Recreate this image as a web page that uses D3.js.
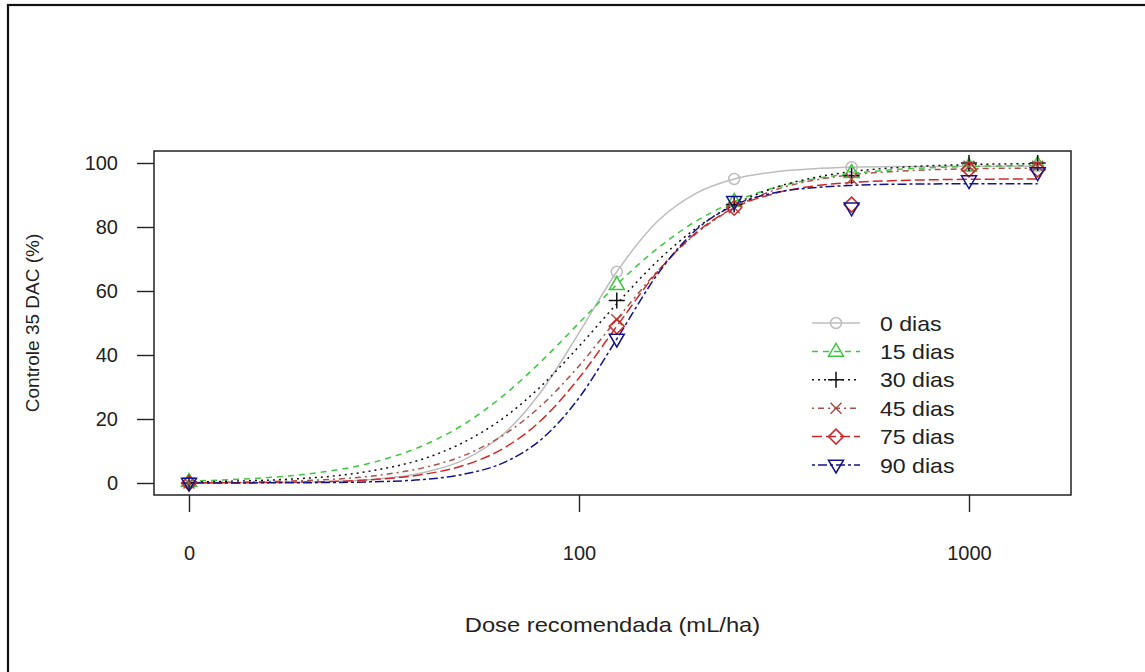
<!DOCTYPE html>
<html>
<head>
<meta charset="utf-8">
<script src="https://cdn.jsdelivr.net/npm/d3@7"></script>
<style>
  body { margin: 0; background: #fff; }
  text { font-family: "Liberation Sans", Arial, sans-serif; fill: #222; }
</style>
</head>
<body>
<svg id="chart" width="1145" height="672"></svg>
<script>
// observed doses (0 is drawn at the break point 10)
const doses = [0, 125, 250, 500, 1000, 1500]
const seriesNames = ["0 dias", "15 dias", "30 dias", "45 dias", "75 dias", "90 dias"]
const obs0  = [0, 66, 95, 98.7, 99, 99]
const obs15 = [0.5, 62, 88, 97, 99, 99.5]
const obs30 = [0, 57, 87, 96, 100, 100]
const obs45 = [0, 51, 86, 95, 99, 99]
const obs75 = [0, 49, 86, 87, 98, 98]
const obs90 = [0, 45, 88, 86, 94.5, 97]

// fitted curves
const curveDoses = [10, 20, 30, 40, 50, 65, 80, 100, 125, 160, 200, 250, 320, 400, 500, 700, 1000, 1500]
const fit0  = [0.02, 0.3, 1.2, 3.3, 6.9, 16.0, 28.6, 46.9, 66.0, 82.1, 90.6, 95.0, 97.3, 98.2, 98.65, 98.9, 99.0, 99.0]
const fit15 = [0.6, 2.8, 6.6, 11.8, 17.9, 28.0, 38.0, 50.0, 62.0, 73.6, 81.9, 87.9, 92.4, 95.0, 96.7, 98.2, 98.9, 99.25]
const fit30 = [0.3, 1.5, 4.0, 7.6, 12.4, 20.9, 30.3, 42.7, 56.0, 69.7, 79.7, 87.0, 92.4, 95.4, 97.3, 98.8, 99.5, 99.8]
const fit45 = [0.1, 0.8, 2.3, 4.8, 8.3, 15.5, 24.2, 36.6, 51.1, 66.6, 78.0, 86.0, 91.7, 94.6, 96.3, 97.6, 98.2, 98.4]
const fit75 = [0.03, 0.3, 1.1, 2.7, 5.3, 11.3, 19.6, 32.8, 49.0, 66.4, 78.3, 86.0, 90.6, 92.8, 93.9, 94.6, 94.9, 95.0]
const fit90 = [0, 0.1, 0.4, 1.1, 2.6, 6.7, 13.6, 26.6, 45.0, 65.7, 79.2, 86.8, 90.8, 92.3, 93.0, 93.4, 93.5, 93.5]

const xTicks = [10, 100, 1000]
const xTickLabels = ["0", "100", "1000"]
const yTicks = [0, 20, 40, 60, 80, 100]

const styles = [
    {color: '#bdbdbd', dash: null, pch: 'circle'},
    {color: '#3cc83c', dash: '6,5', pch: 'triangle'},
    {color: '#111111', dash: '2,4', pch: 'plus'},
    {color: '#a8504a', dash: '2,4,6,4', pch: 'cross'},
    {color: '#d02828', dash: '10,4', pch: 'diamond'},
    {color: '#14148c', dash: '3,3,9,3', pch: 'invtriangle'}
]

const observed = [obs0, obs15, obs30, obs45, obs75, obs90]
const fits = [fit0, fit15, fit30, fit45, fit75, fit90]

const box = {left: 154, right: 1071, top: 151, bottom: 495}

const svg = d3.select('#chart')

// stretch text a bit sideways, like the original picture
const widen = (sel, k) => sel.each(function() {
    const len = this.getComputedTextLength()
    d3.select(this).attr('textLength', len * k).attr('lengthAdjust', 'spacingAndGlyphs')
})

// outer frame (right / bottom edges fall outside the picture)
svg.append('rect')
    .attr('x', 8).attr('y', 5)
    .attr('width', 1300).attr('height', 900)
    .attr('fill', 'none').attr('stroke', '#111').attr('stroke-width', 2.2)

const x = d3.scaleLog().domain([100, 1000]).range([579, 969])
const y = d3.scaleLinear().domain([0, 100]).range([483, 163])
const bp = 10
const xd = d => x(d === 0 ? bp : d)

// axes
const xAxis = d3.axisBottom(x)
    .tickValues(xTicks)
    .tickFormat((d, i) => xTickLabels[i])
    .tickSize(17).tickPadding(34)
const yAxis = d3.axisLeft(y)
    .tickValues(yTicks)
    .tickSize(17).tickPadding(19)

const xg = svg.append('g').attr('transform', `translate(0,${box.bottom})`).call(xAxis)
const yg = svg.append('g').attr('transform', `translate(${box.left},0)`).call(yAxis)
;[xg, yg].forEach(g => {
    g.select('.domain').remove()
    g.selectAll('.tick line').attr('stroke', '#222').attr('stroke-width', 1.4)
    g.selectAll('.tick text').style('font-size', '20px').attr('fill', '#222')
})

svg.append('rect')
    .attr('x', box.left).attr('y', box.top)
    .attr('width', box.right - box.left).attr('height', box.bottom - box.top)
    .attr('fill', 'none').attr('stroke', '#222').attr('stroke-width', 1.5)

svg.append('text')
    .attr('x', (box.left + box.right) / 2).attr('y', 632)
    .attr('text-anchor', 'middle')
    .style('font-size', '21px')
    .text('Dose recomendada (mL/ha)')
    .call(widen, 1.13)

svg.append('text')
    .attr('transform', `translate(39,${(box.top + box.bottom) / 2}) rotate(-90)`)
    .attr('text-anchor', 'middle')
    .style('font-size', '19px')
    .text('Controle 35 DAC (%)')

// R-like plotting symbols
const symbolPath = (pch) => {
    const p = d3.path()
    if (pch === 'circle') { p.moveTo(5.5, 0); p.arc(0, 0, 5.5, 0, Math.PI * 2) }
    if (pch === 'triangle') { p.moveTo(0, -8); p.lineTo(7.5, 4.8); p.lineTo(-7.5, 4.8); p.closePath() }
    if (pch === 'invtriangle') { p.moveTo(0, 8); p.lineTo(7.5, -4.8); p.lineTo(-7.5, -4.8); p.closePath() }
    if (pch === 'plus') { p.moveTo(-8, 0); p.lineTo(8, 0); p.moveTo(0, -8); p.lineTo(0, 8) }
    if (pch === 'cross') { p.moveTo(-5.5, -5.5); p.lineTo(5.5, 5.5); p.moveTo(-5.5, 5.5); p.lineTo(5.5, -5.5) }
    if (pch === 'diamond') { p.moveTo(0, -7.5); p.lineTo(7.5, 0); p.lineTo(0, 7.5); p.lineTo(-7.5, 0); p.closePath() }
    return p.toString()
}

const line = d3.line()
    .x(d => x(d.dose))
    .y(d => y(d.value))
    .curve(d3.curveMonotoneX)

const plot = svg.append('g')

fits.forEach((fit, i) => {
    const data = curveDoses.map((dose, j) => ({dose, value: fit[j]}))
    plot.append('path')
        .datum(data)
        .attr('fill', 'none')
        .attr('stroke', styles[i].color)
        .attr('stroke-width', 1.5)
        .attr('stroke-dasharray', styles[i].dash)
        .attr('d', line)
})

observed.forEach((obs, i) => {
    plot.append('g').selectAll('path')
        .data(doses.map((dose, j) => ({dose, value: obs[j]})))
        .join('path')
            .attr('transform', d => `translate(${xd(d.dose)},${y(d.value)})`)
            .attr('d', symbolPath(styles[i].pch))
            .attr('fill', 'none')
            .attr('stroke', styles[i].color)
            .attr('stroke-width', 1.5)
})

// legend
const legend = svg.append('g').attr('transform', 'translate(812,323)')
seriesNames.forEach((name, i) => {
    const row = legend.append('g').attr('transform', `translate(0,${i * 28.4})`)
    row.append('line')
        .attr('x1', 0).attr('x2', 48).attr('y1', 0).attr('y2', 0)
        .attr('stroke', styles[i].color).attr('stroke-width', 1.5)
        .attr('stroke-dasharray', styles[i].dash)
    row.append('path')
        .attr('transform', 'translate(24,0)')
        .attr('d', symbolPath(styles[i].pch))
        .attr('fill', 'none').attr('stroke', styles[i].color).attr('stroke-width', 1.5)
    row.append('text')
        .attr('x', 68).attr('y', 0).attr('dy', '0.36em')
        .style('font-size', '21px')
        .text(name)
        .call(widen, 1.1)
})
</script>
</body>
</html>
